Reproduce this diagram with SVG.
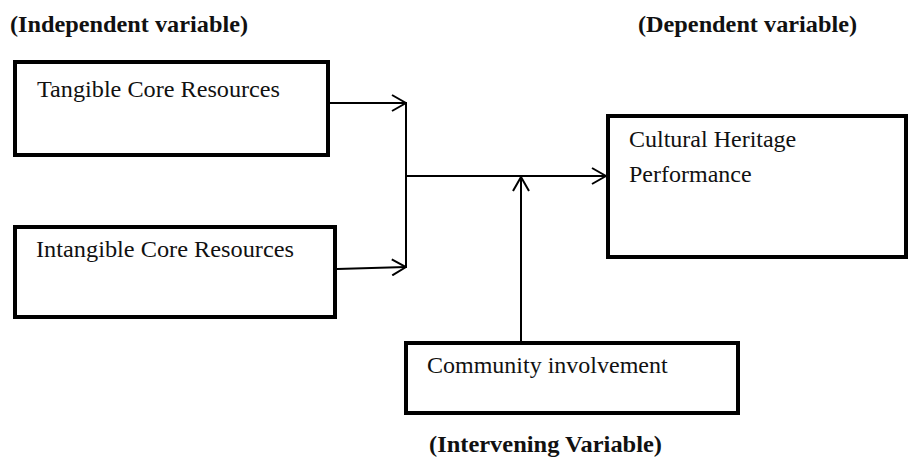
<svg xmlns="http://www.w3.org/2000/svg" width="908" height="457" viewBox="0 0 908 457">
<style>
.box{fill:#fff;stroke:#000;stroke-width:4}
.t{font-family:"Liberation Serif","Times New Roman",serif;font-size:24px;fill:#111}
.h{font-family:"Liberation Serif","Times New Roman",serif;font-size:23px;font-weight:bold;fill:#111}
.c{fill:none;stroke:#000;stroke-width:2}
</style>
<defs>
<marker id="ah" viewBox="0 0 16 18" refX="15" refY="9" markerWidth="16" markerHeight="18" markerUnits="userSpaceOnUse" orient="auto">
<path d="M1,1 L15,9 L1,17" fill="none" stroke="#000" stroke-width="2"/>
</marker>
</defs>
<text class="h" x="10" y="32" textLength="238" lengthAdjust="spacingAndGlyphs">(Independent variable)</text>
<text class="h" x="638" y="32" textLength="219" lengthAdjust="spacingAndGlyphs">(Dependent variable)</text>
<text class="h" x="429" y="452" textLength="233" lengthAdjust="spacingAndGlyphs">(Intervening Variable)</text>
<g id="tangible">
<rect class="box" x="15" y="62" width="313" height="93"/>
<text class="t" x="37" y="97" textLength="243" lengthAdjust="spacingAndGlyphs">Tangible Core Resources</text>
</g>
<g id="intangible">
<rect class="box" x="15" y="227" width="320" height="90"/>
<text class="t" x="36" y="257" textLength="258" lengthAdjust="spacingAndGlyphs">Intangible Core Resources</text>
</g>
<g id="cultural">
<rect class="box" x="608" y="116" width="298" height="141"/>
<text class="t" x="629" y="147">Cultural Heritage</text>
<text class="t" x="629" y="182">Performance</text>
</g>
<g id="community">
<rect class="box" x="406" y="343" width="332" height="70"/>
<text class="t" x="427" y="373">Community involvement</text>
</g>
<g id="connectors">
<line class="c" x1="330" y1="103" x2="406" y2="103" marker-end="url(#ah)"/>
<line class="c" x1="337" y1="269" x2="406" y2="267" marker-end="url(#ah)"/>
<line class="c" x1="406" y1="102" x2="406" y2="268"/>
<line class="c" x1="406" y1="176" x2="606" y2="176" marker-end="url(#ah)"/>
<line class="c" x1="521" y1="341" x2="521" y2="177" marker-end="url(#ah)"/>
</g>
</svg>
